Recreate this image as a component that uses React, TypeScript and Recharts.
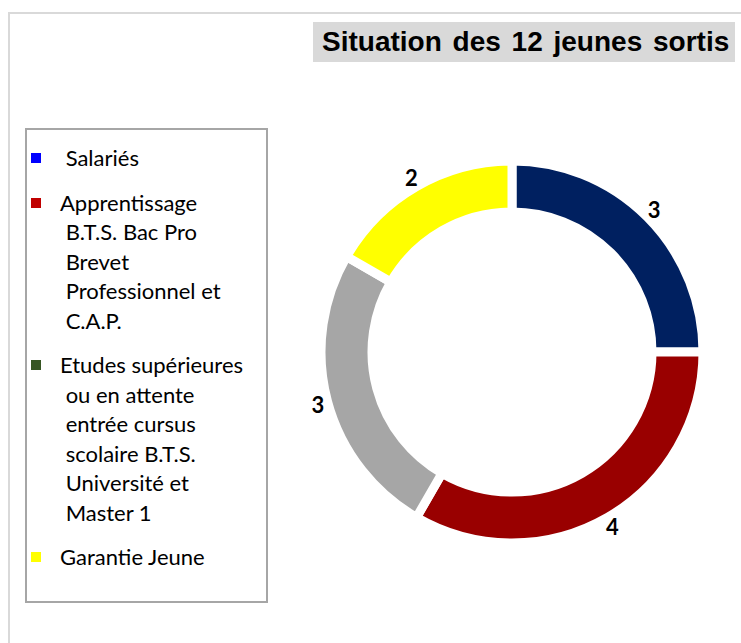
import { PieChart, Pie, Cell } from 'recharts'

const categories = [
  ' Salariés',
  'Apprentissage\n B.T.S. Bac Pro\n Brevet\n Professionnel et\n C.A.P.',
  'Etudes supérieures\n ou en attente\n entrée cursus\n scolaire B.T.S.\n Université et\n Master 1',
  'Garantie Jeune'
]
const values = [3, 4, 3, 2]
const sliceColors = ['#002060', '#990000', '#A6A6A6', '#FFFF00']
const legendColors = ['#0000FF', '#C00000', '#375623', '#FFFF00']
const title = 'Situation des 12 jeunes sortis'

const data = categories.map((name, i) => ({ name, value: values[i] }))

const RAD = Math.PI / 180

// value labels sit just outside the ring, on the slice's middle angle
function renderLabel(props: any) {
  const { cx, cy, midAngle, outerRadius, value } = props
  const r = outerRadius + 10
  const x = cx + r * Math.cos(-midAngle * RAD)
  const y = cy + r * Math.sin(-midAngle * RAD)
  return (
    <text
      x={x}
      y={y}
      textAnchor="middle"
      dominantBaseline="central"
      fill="#000"
      fontFamily="Lato, sans-serif"
      fontWeight="bold"
      fontSize={22}
    >
      {value}
    </text>
  )
}

function LegendBox() {
  return (
    <div
      style={{
        position: 'absolute',
        left: 25,
        top: 128,
        width: 243,
        height: 475,
        border: '2px solid #a6a6a6',
        boxSizing: 'border-box',
        background: '#fff',
        padding: '13px 0 0 4px'
      }}
    >
      {categories.map((name, i) => (
        <div key={i} style={{ display: 'flex', alignItems: 'flex-start', marginBottom: 15 }}>
          <div
            style={{
              width: 10,
              height: 10,
              background: legendColors[i],
              marginTop: 10,
              marginRight: 19,
              flexShrink: 0
            }}
          />
          <div
            style={{
              whiteSpace: 'pre',
              fontFamily: 'Lato, sans-serif',
              fontSize: 22,
              lineHeight: '29.5px',
              color: '#000'
            }}
          >
            {name}
          </div>
        </div>
      ))}
    </div>
  )
}

export default function App() {
  return (
    <div style={{ position: 'relative', width: 741, height: 643, background: '#fff', overflow: 'hidden' }}>
      <style>{'body{margin:0}'}</style>
      <div
        style={{
          position: 'absolute',
          left: 8,
          top: 12,
          right: 0,
          bottom: 0,
          borderLeft: '2px solid #d9d9d9',
          borderTop: '2px solid #d9d9d9'
        }}
      />
      <div
        style={{
          position: 'absolute',
          left: 313,
          top: 22,
          width: 422,
          height: 40,
          background: '#d9d9d9',
          fontFamily: '"Liberation Sans", Arial, sans-serif',
          fontWeight: 'bold',
          fontSize: 28,
          wordSpacing: 3,
          lineHeight: '40px',
          paddingLeft: 9,
          boxSizing: 'border-box',
          whiteSpace: 'nowrap',
          color: '#000'
        }}
      >
        {title}
      </div>
      <div style={{ position: 'absolute', left: 0, top: 0 }}>
        <PieChart width={741} height={643} margin={{ top: 0, right: 0, bottom: 0, left: 0 }}>
          <Pie
            data={data}
            dataKey="value"
            nameKey="name"
            cx={512}
            cy={352}
            outerRadius={191}
            innerRadius={140}
            startAngle={90}
            endAngle={-270}
            stroke="#fff"
            strokeWidth={9}
            label={renderLabel}
            labelLine={false}
            isAnimationActive={false}
          >
            {data.map((d, i) => (
              <Cell key={d.name} fill={sliceColors[i]} />
            ))}
          </Pie>
        </PieChart>
      </div>
      <LegendBox />
    </div>
  )
}
